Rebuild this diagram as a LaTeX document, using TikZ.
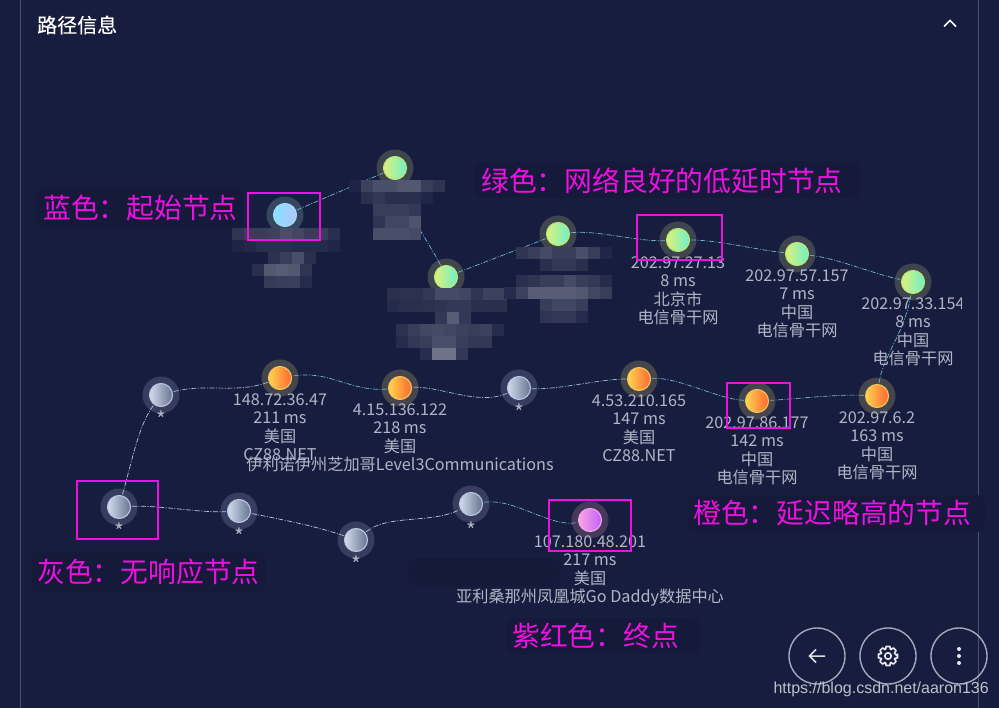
\documentclass[tikz,border=0pt]{standalone}
\usepackage{fontspec}
\setmainfont{Noto Sans CJK SC}
\newfontfamily\wmfont{Liberation Sans}
\newfontfamily\titlefont[FakeBold=0.35]{Noto Sans CJK SC}
\definecolor{bgc}{HTML}{171D3F}
\definecolor{framec}{HTML}{4A5072}
\definecolor{labc}{HTML}{B2B5C6}
\definecolor{pinkc}{HTML}{EE10E0}
\definecolor{cyanl}{HTML}{6DB6D2}
\definecolor{grayl}{HTML}{BCC4D6}
\definecolor{midl}{HTML}{98BED4}
\definecolor{smudge}{HTML}{151A3B}
\tikzset{
  hopbase/.style={circle,minimum size=23pt,inner sep=0pt,line width=1.1pt},
  hopblue/.style={hopbase,draw=HBb,left color=HBl,right color=HBr},
  hopgreen/.style={hopbase,draw=HGb,left color=HGl,right color=HGr},
  hoporange/.style={hopbase,draw=HOb,left color=HOl,right color=HOr},
  hopgray/.style={hopbase,draw=HYb,left color=HYl,right color=HYr},
  hoppurple/.style={hopbase,draw=HPb,left color=HPl,right color=HPr},
  linkc/.style={draw=cyanl,line width=.7pt,dash pattern=on 5pt off 1.5pt on 1pt off 1.5pt,shorten <=1pt,shorten >=1pt},
  linkg/.style={linkc,draw=grayl},
  linkm/.style={linkc,draw=midl},
  iplabel/.style={anchor=north,align=center,inner sep=0pt,text=labc,font=\fontsize{16.2}{18.4}\selectfont},
  starlabel/.style={inner sep=0pt,text=labc,font=\fontsize{21}{22}\selectfont},
  tagbox/.style={draw=pinkc,line width=2pt},
  tagtext/.style={anchor=west,inner sep=0pt,text=pinkc,font=\fontsize{27.8}{30}\selectfont},
  roundbtn/.style={circle,draw=BTc,line width=1.4pt,minimum size=56pt,inner sep=0pt},
  halo/.style={fill=#1}
}
\definecolor{HBb}{HTML}{9FE0F0}\definecolor{HBl}{HTML}{86E2FF}\definecolor{HBr}{HTML}{B4C4FF}
\definecolor{HGb}{HTML}{BCE870}\definecolor{HGl}{HTML}{DFF07C}\definecolor{HGr}{HTML}{6CF0C8}
\definecolor{HOb}{HTML}{F0C860}\definecolor{HOl}{HTML}{FFD650}\definecolor{HOr}{HTML}{FF6630}
\definecolor{HYb}{HTML}{B8C6E2}\definecolor{HYl}{HTML}{D2DCEE}\definecolor{HYr}{HTML}{64748F}
\definecolor{HPb}{HTML}{F0A8E8}\definecolor{HPl}{HTML}{FFA4E0}\definecolor{HPr}{HTML}{BE62FF}
\definecolor{HAb}{HTML}{36465F}\definecolor{HAg}{HTML}{3E454F}\definecolor{HAo}{HTML}{45454C}
\definecolor{HAy}{HTML}{363D5E}\definecolor{HAp}{HTML}{48385C}
\definecolor{BTc}{HTML}{A6A9BC}
\newcommand{\hop}[5]{\fill[halo=#5] (#2,#3) circle (18.5);\node[hop#4] (#1) at (#2,#3) {};}
\newcommand{\mosrow}[3]{\foreach \p [count=\i from 0] in {#3} {\fill[white!\p!bgc] ({#1+\i*12},#2) rectangle ++(12.2,12.2);}}
\begin{document}
\begin{tikzpicture}[x=1pt,y=-1pt]
\useasboundingbox (0,0) rectangle (999,708);
\fill[bgc] (0,0) rectangle (999,708);
\draw[framec,line width=1pt] (20.5,0) -- (20.5,708) (978.5,0) -- (978.5,708);
% smudges behind the tags
\fill[smudge,rounded corners=8pt] (36,188) rectangle (244,228);
\fill[smudge,rounded corners=8pt] (474,162) rectangle (860,198);
\fill[smudge,rounded corners=8pt] (688,495) rectangle (985,532);
\fill[smudge,rounded corners=8pt] (32,552) rectangle (266,592);
\fill[smudge,rounded corners=8pt] (506,618) rectangle (700,654);
\fill[smudge,rounded corners=8pt] (408,558) rectangle (560,586);
% title
\node[anchor=west,inner sep=0pt,text=white,font=\titlefont\fontsize{20}{22}\selectfont] (title) at (37,25) {路径信息};
\draw[white,line width=1.6pt] (944,26.5) -- (950,20.5) -- (956,26.5);
% hops
\hop{start}{285}{215}{blue}{HAb}
\hop{ga}{395}{168}{green}{HAg}
\hop{gb}{446}{277}{green}{HAg}
\hop{gc}{558}{234}{green}{HAg}
\hop{gd}{678}{240}{green}{HAg}
\hop{ge}{797}{254}{green}{HAg}
\hop{gf}{913}{282}{green}{HAg}
\hop{oa}{877}{396}{orange}{HAo}
\hop{ob}{757}{401}{orange}{HAo}
\hop{oc}{639}{379}{orange}{HAo}
\hop{ya}{519}{388}{gray}{HAy}
\hop{od}{400}{388}{orange}{HAo}
\hop{oe}{280}{378}{orange}{HAo}
\hop{yb}{161}{395}{gray}{HAy}
\hop{yc}{119}{507}{gray}{HAy}
\hop{yd}{239}{511}{gray}{HAy}
\hop{ye}{356}{540}{gray}{HAy}
\hop{yf}{471}{504}{gray}{HAy}
\hop{pa}{590}{520}{purple}{HAp}
% links
\draw[linkc] (start) -- (ga);
\draw[linkc] (ga) .. controls +(8,40) and +(-14,-30) .. (gb);
\draw[linkc] (gb) -- (gc);
\draw[linkc] (gc) .. controls +(40,-4) and +(-40,2) .. (gd);
\draw[linkc] (gd) .. controls +(40,0) and +(-40,-4) .. (ge);
\draw[linkc] (ge) .. controls +(40,4) and +(-40,-8) .. (gf);
\draw[linkc] (gf) .. controls +(-8,50) and +(6,-40) .. (oa);
\draw[linkc] (oa) .. controls +(-40,-2) and +(40,-2) .. (ob);
\draw[linkc] (ob) .. controls +(-40,-2) and +(40,-2) .. (oc);
\draw[linkm] (oc) .. controls +(-40,0) and +(40,2) .. (ya);
\draw[linkm] (ya) .. controls +(-40,18) and +(40,-2) .. (od);
\draw[linkc] (od) .. controls +(-50,4) and +(50,-8) .. (oe);
\draw[linkm] (oe) .. controls +(-45,16) and +(45,-12) .. (yb);
\draw[linkg] (yb) .. controls +(-22,30) and +(14,-50) .. (yc);
\draw[linkg] (yc) .. controls +(40,-2) and +(-40,2) .. (yd);
\draw[linkg] (yd) .. controls +(40,8) and +(-40,-14) .. (ye);
\draw[linkg] (ye) .. controls +(32,-26) and +(-40,20) .. (yf);
\draw[linkc] (yf) .. controls +(45,-6) and +(-40,8) .. (pa);
% mosaics
\mosrow{232}{228}{10,14,14,16,22,18,14,14,8}
\mosrow{232}{240}{3,5,8,8,8,6,6,6,4}
\mosrow{256}{252}{0,9,14,22,8}
\mosrow{252}{264}{8,26,28,26,10}
\mosrow{252}{276}{0,13,14,15,6}
\mosrow{349}{180}{3,16,22,22,26,26,14,10}
\mosrow{361}{192}{8,12,8,8,8,4}
\mosrow{373}{204}{14,14,14,12}
\mosrow{373}{216}{10,18,18,24}
\mosrow{373}{228}{22,22,22,20}
\mosrow{387}{288}{8,9,9,12,20,20,18,10,16,16}
\mosrow{387}{300}{6,8,8,9,10,12,12,8,8,8}
\mosrow{423}{312}{0,12,28,12}
\mosrow{396}{324}{9,14,18,20,18,16,14,16,6}
\mosrow{396}{336}{6,12,14,22,22,14,12,12}
\mosrow{420}{348}{7,38,38,12}
\mosrow{516}{247}{10,14,20,14,14,22,14,4}
\mosrow{540}{259}{8,12,12,8}
\mosrow{516}{275}{8,10,14,14,20,14,12,6}
\mosrow{504}{287}{6,16,28,28,28,28,26,18,14}
\mosrow{540}{299}{14,18,18,14}
\mosrow{540}{311}{10,12,12,6}
% labels
\node[iplabel] (lgd) at (678,256.5) {202.97.27.13\\8 ms\\北京市\\电信骨干网};
\node[iplabel] (lge) at (797,269.5) {202.97.57.157\\7 ms\\中国\\电信骨干网};
\begin{scope}
\clip (850,280) rectangle (961,380);
\node[iplabel] (lgf) at (913,297.5) {202.97.33.154\\8 ms\\中国\\电信骨干网};
\end{scope}
\node[iplabel] (loa) at (877,411.5) {202.97.6.2\\163 ms\\中国\\电信骨干网};
\node[iplabel] (lob) at (757,416.5) {202.97.86.177\\142 ms\\中国\\电信骨干网};
\node[iplabel] (loc) at (639,394.5) {4.53.210.165\\147 ms\\美国\\CZ88.NET};
\node[iplabel] (lod) at (400,403.5) {4.15.136.122\\218 ms\\美国\\伊利诺伊州芝加哥Level3Communications};
\node[iplabel] (loe) at (280,393.5) {148.72.36.47\\211 ms\\美国\\CZ88.NET};
\node[iplabel] (lpa) at (590,535.5) {107.180.48.201\\217 ms\\美国\\亚利桑那州凤凰城Go Daddy数据中心};
\node[starlabel] (sa) at (519,412) {*};
\node[starlabel] (sb) at (161,419) {*};
\node[starlabel] (sc) at (119,531) {*};
\node[starlabel] (sd) at (239,536) {*};
\node[starlabel] (se) at (356,564) {*};
\node[starlabel] (sf) at (471,530) {*};
% boxes
\draw[tagbox] (248,193) rectangle (320,240);
\draw[tagbox] (637,215) rectangle (722,260);
\draw[tagbox] (727,383) rectangle (790,428);
\draw[tagbox] (77,481) rectangle (158,539);
\draw[tagbox] (549,500) rectangle (631,551);
% tags
\node[tagtext] (ta) at (43,208) {蓝色：起始节点};
\node[tagtext] (tb) at (481,181) {绿色：网络良好的低延时节点};
\node[tagtext] (tc) at (693,513) {橙色：延迟略高的节点};
\node[tagtext] (td) at (37,572) {灰色：无响应节点};
\node[tagtext] (te) at (512,636) {紫红色：终点};
% buttons
\node[roundbtn] (bback) at (817,656) {};
\node[roundbtn] (bgear) at (888,656) {};
\node[roundbtn] (bmore) at (959,656) {};
\draw[white!85!bgc,line width=1.5pt] (825,656) -- (809.5,656) (816,649.5) -- (809.5,656) -- (816,662.5);
\begin{scope}[shift={(888,656)}]
\draw[white!90!bgc,line width=1.7pt,line join=round] (9.5,0) \foreach \a in {0,45,...,315} {-- (\a-11:9.7) -- (\a+11:9.7) -- (\a+20:7.2) -- (\a+25:7.2)} -- cycle;
\draw[white!90!bgc,line width=1.7pt] (0,0) circle (3.2);
\end{scope}
\fill[white!90!bgc] (959,649) circle (2) (959,656) circle (2) (959,663) circle (2);
\node[anchor=east,inner sep=0pt,text=white!72!bgc,font=\wmfont\fontsize{16}{18}\selectfont] (wm) at (989,689) {https://blog.csdn.net/aaron136};
\end{tikzpicture}
\end{document}
